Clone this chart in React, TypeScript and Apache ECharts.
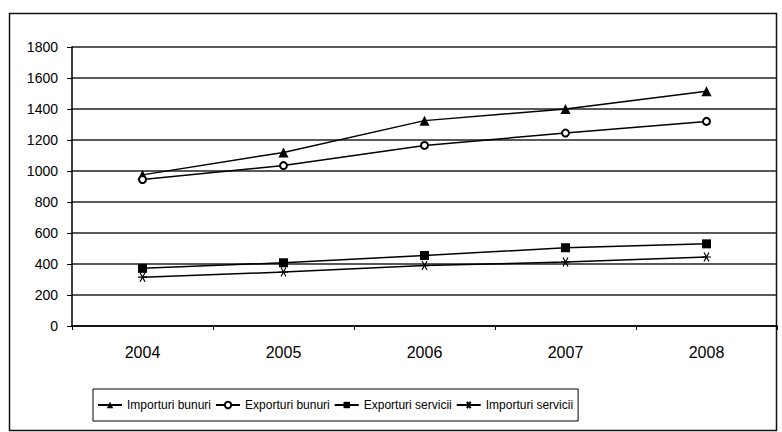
import React, { useEffect, useRef } from "react";
import * as echarts from "echarts";

const years = ["2004", "2005", "2006", "2007", "2008"];
const importuriBunuri = [975, 1120, 1325, 1400, 1515];
const exporturiBunuri = [945, 1035, 1165, 1245, 1320];
const exporturiServicii = [372, 408, 455, 505, 530];
const importuriServicii = [315, 348, 390, 413, 445];
const yTicks = { min: 0, max: 1800, interval: 200 };

const FONT = "'Liberation Sans', Arial, sans-serif";
const crossSymbol = "path://M0,0L10,10M10,0L0,10M-4,5L14,5";

export default function App() {
  const ref = useRef<HTMLDivElement>(null);
  useEffect(() => {
    if (!ref.current) return;
    const chart = echarts.init(ref.current, null, { renderer: "svg" });
    const lineStyle = { color: "#000", width: 1.5 };
    chart.setOption({
      animation: false,
      backgroundColor: "#fff",
      textStyle: { fontFamily: FONT, color: "#000" },
      grid: { left: 72, right: 5, top: 47, bottom: 106 },
      graphic: [
        {
          type: "rect",
          shape: { x: 9.5, y: 13.5, width: 767, height: 417 },
          style: { fill: "none", stroke: "#111", lineWidth: 1.5 },
          silent: true,
        },
      ],
      legend: {
        left: 93,
        top: 389,
        padding: [10, 5, 10, 4],
        itemGap: 4,
        itemWidth: 24,
        itemHeight: 8,
        borderColor: "#000",
        borderWidth: 1,
        textStyle: { fontFamily: FONT, fontSize: 12, color: "#000" },
        data: ["Importuri bunuri", "Exporturi bunuri", "Exporturi servicii", "Importuri servicii"],
      },
      xAxis: {
        type: "category",
        data: years,
        boundaryGap: true,
        axisLine: { lineStyle: { color: "#000", width: 1.5 } },
        axisTick: { show: true, length: 4, lineStyle: { color: "#000" } },
        axisLabel: { fontFamily: FONT, fontSize: 16, color: "#000", margin: 18 },
      },
      yAxis: {
        type: "value",
        min: yTicks.min,
        max: yTicks.max,
        interval: yTicks.interval,
        axisLine: { show: true, lineStyle: { color: "#000", width: 1.5 } },
        axisTick: { show: true, length: 5, lineStyle: { color: "#000" } },
        axisLabel: {
          fontFamily: FONT,
          fontSize: 14,
          color: "#000",
          margin: 14,
          formatter: (v: number) => String(v),
        },
        splitLine: { lineStyle: { color: "#222", width: 1.5 } },
      },
      series: [
        {
          name: "Importuri bunuri",
          type: "line",
          data: importuriBunuri,
          symbol: "triangle",
          symbolSize: 10,
          itemStyle: { color: "#000" },
          lineStyle,
        },
        {
          name: "Exporturi bunuri",
          type: "line",
          data: exporturiBunuri,
          symbol: "emptyCircle",
          symbolSize: 7,
          itemStyle: { color: "#000", borderColor: "#000", borderWidth: 1.2 },
          lineStyle,
        },
        {
          name: "Exporturi servicii",
          type: "line",
          data: exporturiServicii,
          symbol: "rect",
          symbolSize: 9,
          itemStyle: { color: "#000" },
          lineStyle,
        },
        {
          name: "Importuri servicii",
          type: "line",
          data: importuriServicii,
          symbol: crossSymbol,
          symbolSize: 9,
          itemStyle: { color: "none", borderColor: "#000", borderWidth: 1.2 },
          lineStyle,
        },
      ],
    });
    return () => chart.dispose();
  }, []);
  return (
    <div
      ref={ref}
      style={{ position: "fixed", left: 0, top: 0, width: 782, height: 432 }}
    />
  );
}
